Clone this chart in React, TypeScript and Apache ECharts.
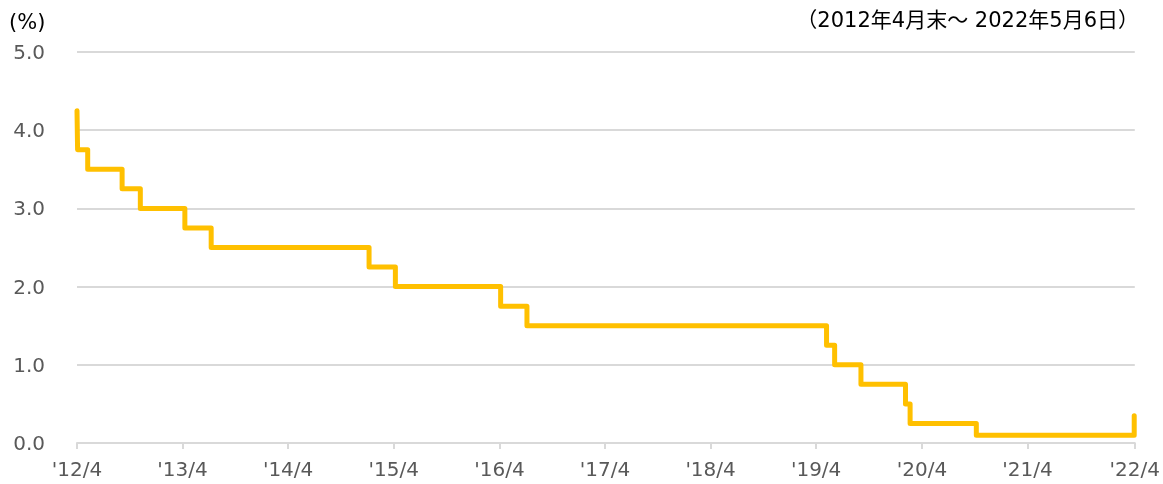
import React, { useEffect, useRef } from "react";
import * as echarts from "echarts";

// Policy rate step changes (date, %)
const changeDates: string[] = [
  "2012-04-30", "2012-05-02", "2012-06-06", "2012-10-03", "2012-12-05",
  "2013-05-08", "2013-08-07", "2015-02-04", "2015-05-06", "2016-05-04",
  "2016-08-03", "2019-06-05", "2019-07-03", "2019-10-02", "2020-03-04",
  "2020-03-20", "2020-11-04", "2022-05-04", "2022-05-06",
];
const rates: number[] = [
  4.25, 3.75, 3.5, 3.25, 3.0,
  2.75, 2.5, 2.25, 2.0, 1.75,
  1.5, 1.25, 1.0, 0.75, 0.5,
  0.25, 0.1, 0.35, 0.35,
];
const tickDates: string[] = [
  "2012-04-30", "2013-04-30", "2014-04-30", "2015-04-30", "2016-04-30",
  "2017-04-30", "2018-04-30", "2019-04-30", "2020-04-30", "2021-04-30",
  "2022-05-06",
];
const tickLabels: string[] = [
  "'12/4", "'13/4", "'14/4", "'15/4", "'16/4",
  "'17/4", "'18/4", "'19/4", "'20/4", "'21/4", "'22/4",
];
const yUnit = "(%)";
const periodNote = "（2012年4月末～ 2022年5月6日）";

const DAY = 86400000;
const origin = new Date(changeDates[0] + "T00:00:00Z").getTime();
const days = (d: string) => Math.round((new Date(d + "T00:00:00Z").getTime() - origin) / DAY);

export default function App() {
  const ref = useRef<HTMLDivElement>(null);
  useEffect(() => {
    if (!ref.current) return;
    const chart = echarts.init(ref.current, undefined, { renderer: "svg" });
    const tickDays = tickDates.map(days);
    const labelMap = new Map<number, string>();
    tickDays.forEach((t, i) => labelMap.set(t, tickLabels[i]));
    const font = "'DejaVu Sans', Verdana, sans-serif";
    const cjkFont = "'DejaVu Sans', 'Noto Sans CJK JP', sans-serif";
    chart.setOption({
      animation: false,
      textStyle: { fontFamily: font },
      grid: { left: 77, right: 26, top: 52, bottom: 41, containLabel: false },
      graphic: [
        {
          type: "text",
          left: 9,
          top: 11,
          style: { text: yUnit, fontSize: 21, fill: "#000", fontFamily: font },
        },
        {
          type: "text",
          right: 24,
          top: 9,
          style: { text: periodNote, fontSize: 21, fill: "#000", fontFamily: cjkFont },
        },
      ],
      xAxis: {
        type: "value",
        min: 0,
        max: days(changeDates[changeDates.length - 1]),
        axisLine: { show: true, lineStyle: { color: "#d9d9d9", width: 2 } },
        axisTick: { show: true, length: 6, lineStyle: { color: "#d9d9d9", width: 2 }, customValues: tickDays },
        splitLine: { show: false },
        axisLabel: {
          customValues: tickDays,
          formatter: (v: number) => labelMap.get(v) ?? "",
          color: "#595959",
          fontSize: 20,
          margin: 16,
          fontFamily: font,
        },
      },
      yAxis: {
        type: "value",
        min: 0,
        max: 5,
        interval: 1,
        axisLine: { show: false },
        axisTick: { show: false },
        axisLabel: {
          formatter: (v: number) => v.toFixed(1),
          color: "#595959",
          fontSize: 20,
          margin: 32,
          fontFamily: font,
        },
        splitLine: { lineStyle: { color: "#d9d9d9", width: 2 } },
      },
      series: [
        {
          type: "line",
          step: "end",
          showSymbol: false,
          symbol: "none",
          data: changeDates.map((d, i) => [days(d), rates[i]]),
          lineStyle: { color: "#FFC000", width: 5, cap: "round", join: "round" },
          itemStyle: { color: "#FFC000" },
        },
      ],
    });
    return () => chart.dispose();
  }, []);
  return (
    <div
      ref={ref}
      style={{ position: "fixed", left: 0, top: 0, width: 1163, height: 484 }}
    />
  );
}
